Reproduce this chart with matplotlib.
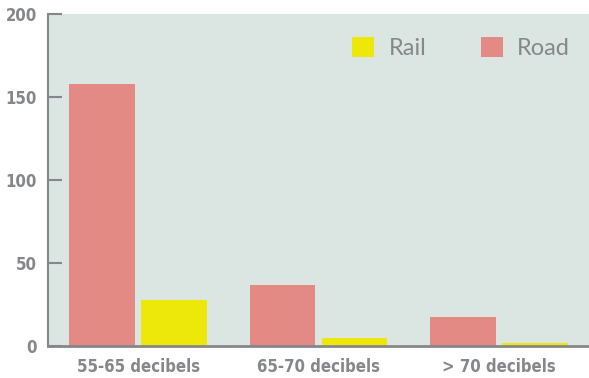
import matplotlib.pyplot as plt
import numpy as np

categories = ['55-65 decibels', '65-70 decibels', '> 70 decibels']
road = [158, 37, 17.5]
rail = [28, 5, 2]
y_ticks = [0, 50, 100, 150, 200]

bg = '#dbe5e1'
road_color = '#e28a83'
rail_color = '#ede80a'
grey = '#86878a'

fig = plt.figure(figsize=(5.89, 3.78), dpi=100)
ax = fig.add_axes([48 / 589, 32 / 378, 541 / 589, 332 / 378])
ax.set_facecolor(bg)

x = np.arange(len(categories))
w = 0.365
ax.bar(x - 0.2, road, w, color=road_color, label='Road', zorder=2)
ax.bar(x + 0.2, rail, w, color=rail_color, label='Rail', zorder=2)

ax.set_xlim(-0.5, 2.5)
ax.set_ylim(0, 200)
ax.set_yticks(y_ticks)
ax.set_xticks(x)
ax.set_xticklabels(categories)

for s in ['top', 'right']:
    ax.spines[s].set_visible(False)
ax.spines['left'].set_color(grey)
ax.spines['left'].set_linewidth(1.5)
ax.spines['bottom'].set_color(grey)
ax.spines['bottom'].set_linewidth(2)

ax.tick_params(axis='y', direction='in', length=10, width=1.5, color=grey, pad=8)
ax.tick_params(axis='x', length=0, pad=9)
for lbl in ax.get_xticklabels() + ax.get_yticklabels():
    lbl.set_fontsize(12)
    lbl.set_fontweight('heavy')
    lbl.set_fontstretch('condensed')
    lbl.set_family('DejaVu Sans')
    lbl.set_color(grey)

# legend: Rail first, then Road
h, l = ax.get_legend_handles_labels()
leg = ax.legend([h[1], h[0]], [l[1], l[0]], ncol=2, frameon=False,
                loc='upper left', bbox_to_anchor=(352 / 589, 1 - 37 / 378),
                bbox_transform=fig.transFigure, borderaxespad=0, borderpad=0,
                handlelength=0.93, handleheight=0.93,
                handletextpad=0.62, columnspacing=2.3,
                prop={'family': 'Lato', 'size': 17})
for t in leg.get_texts():
    t.set_color(grey)

fig.savefig('out.png', dpi=100)
